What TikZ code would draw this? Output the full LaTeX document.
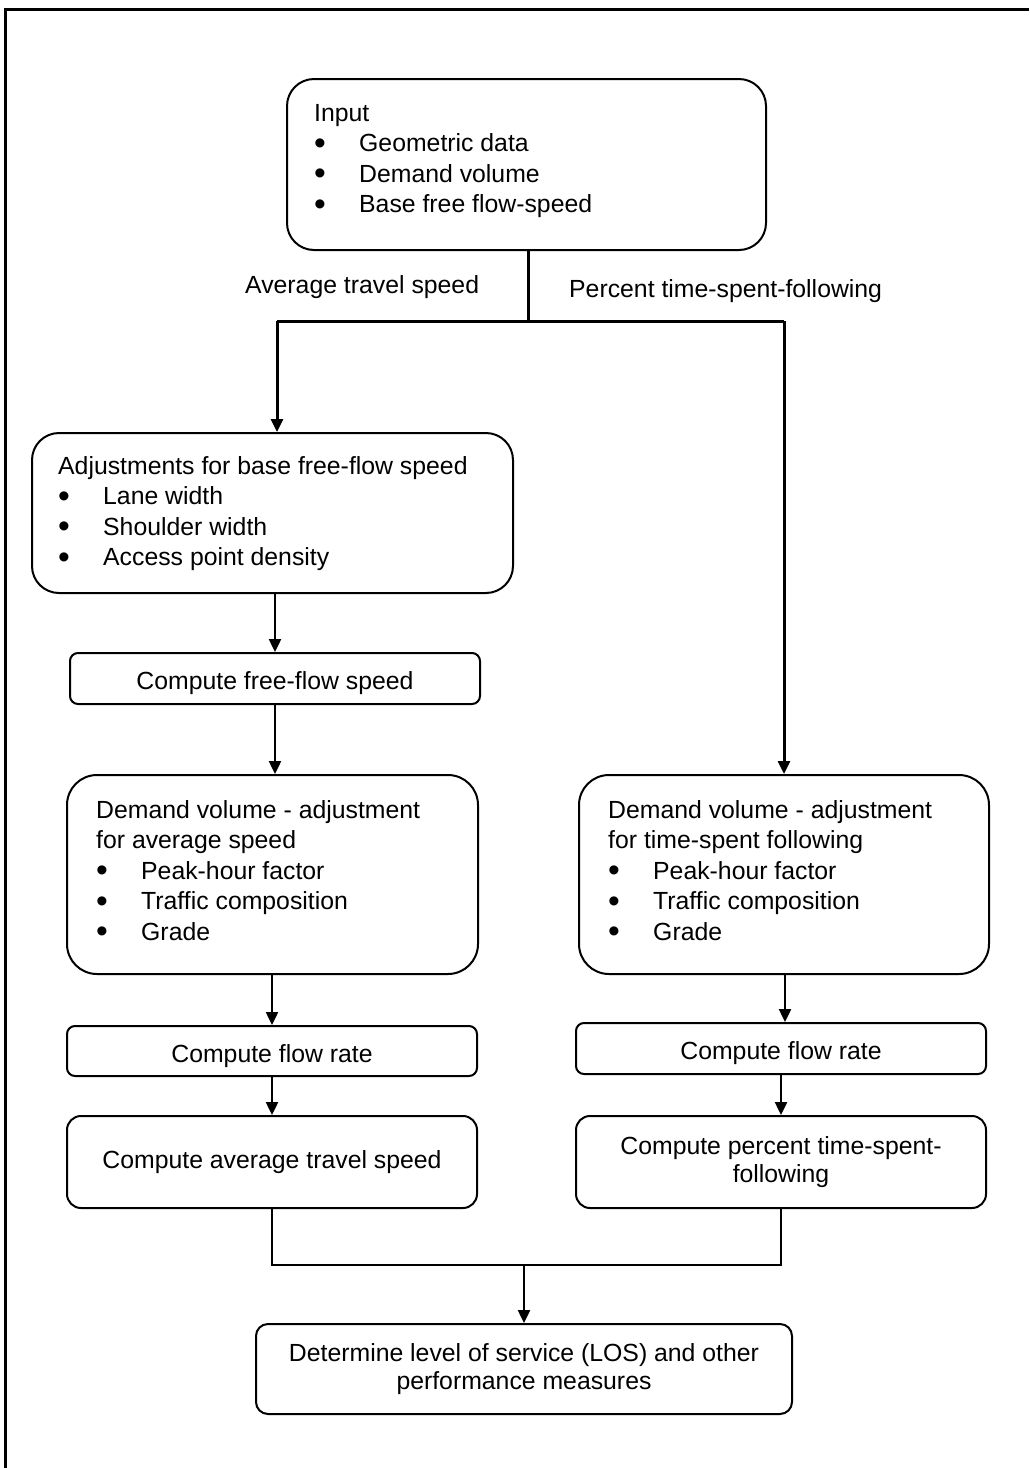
\documentclass[tikz,border=0pt]{standalone}
\usepackage{fontspec}
\setmainfont{Liberation Sans}
\usetikzlibrary{arrows.meta}
\newcommand{\bigbul}{\raisebox{-2.6pt}{\scalebox{1.35}{\textbullet}}}
\newcommand{\bitem}[1]{\makebox[45pt][l]{\bigbul}#1}
\newcommand{\blk}[1]{\parbox[t]{440pt}{\raggedright #1}}
\tikzset{
  basefont/.style={font=\fontsize{24.8}{30.5}\selectfont},
  rbox/.style={draw, line width=2pt, rectangle, inner sep=0pt, basefont},
  oneline/.style={text height=22pt, text depth=0pt},
  txt/.style={inner sep=0pt, anchor=base west, basefont},
  twolines/.style={align=center, font=\fontsize{24.8}{28.8}\selectfont},
  wide/.style={line width=3pt},
  conn/.style={line width=2.2pt},
  arr/.style={line width=2.4pt, -{Triangle[length=13pt,width=12pt]}},
  arrw/.style={line width=3pt, -{Triangle[length=13pt,width=12pt]}}
}
\begin{document}
\begin{tikzpicture}[x=1pt,y=-1pt]
\useasboundingbox (0,0) rectangle (1029,1468);
% frame (partly cut off)
\draw[line width=3pt] (5.5,1468) -- (5.5,9.5) -- (1029,9.5);

% boxes
\node[rbox, rounded corners=27pt, minimum width=479pt, minimum height=171pt] (inp) at (526.5,164.5) {};
\node[rbox, rounded corners=27pt, minimum width=481pt, minimum height=160pt] (adj) at (272.5,513) {};
\node[rbox, oneline, rounded corners=8pt, minimum width=410pt, minimum height=51pt] (ffs) at (275,678.5) {Compute free-flow speed};
\node[rbox, rounded corners=30pt, minimum width=411pt, minimum height=199pt] (dl) at (272.5,874.5) {};
\node[rbox, rounded corners=30pt, minimum width=410pt, minimum height=199pt] (dr) at (784,874.5) {};
\node[rbox, oneline, rounded corners=8pt, minimum width=410pt, minimum height=50pt] (frl) at (272,1051) {Compute flow rate};
\node[rbox, oneline, rounded corners=8pt, minimum width=410pt, minimum height=51pt] (frr) at (781,1048.5) {Compute flow rate};
\node[rbox, rounded corners=14pt, minimum width=410pt, minimum height=92pt] (atl) at (272,1162) {Compute average travel speed};
\node[rbox, twolines, rounded corners=14pt, minimum width=410pt, minimum height=92pt] (ptr) at (781,1162) {Compute percent time-spent-\\following};
\node[rbox, twolines, rounded corners=12pt, minimum width=536pt, minimum height=90pt] (los) at (524,1369) {Determine level of service (LOS) and other\\performance measures};

% box texts
\node[txt] (inpT) at (314,121) {\blk{Input\\\bitem{Geometric data}\\\bitem{Demand volume}\\\bitem{Base free flow-speed}}};
\node[txt] (adjT) at (58,474) {\blk{Adjustments for base free-flow speed\\\bitem{Lane width}\\\bitem{Shoulder width}\\\bitem{Access point density}}};
\node[txt] (dlT) at (96,818) {\blk{Demand volume - adjustment\\for average speed\\\bitem{Peak-hour factor}\\\bitem{Traffic composition}\\\bitem{Grade}}};
\node[txt] (drT) at (608,818) {\blk{Demand volume - adjustment\\for time-spent following\\\bitem{Peak-hour factor}\\\bitem{Traffic composition}\\\bitem{Grade}}};

% branch labels
\node[txt] (lblA) at (245,293) {Average travel speed};
\node[txt] (lblP) at (569,297) {Percent time-spent-following};

% top split
\coordinate (jl) at (277,321);
\coordinate (jr) at (784,321);
\draw[wide] (inp.south -| 528,0) -- (528,321);
\draw[wide] (jl) -- (jr);
\draw[arrw] (jl) -- (jl |- adj.north);
\draw[arrw] (jr) -- (jr |- dr.north);

% left chain
\draw[arr] (adj.south -| ffs.north) -- (ffs.north);
\draw[arr] (ffs.south) -- (ffs.south |- dl.north);
\draw[arr] (dl.south -| frl.north) -- (frl.north);
\draw[arr] (frl.south) -- (atl.north);

% right chain
\draw[arr] (dr.south -| 785,0) -- (785,0 |- frr.north);
\draw[arr] (frr.south) -- (ptr.north);

% merge
\coordinate (jb) at (524,1265);
\draw[conn] (atl.south) -- (atl.south |- jb) -- (ptr.south |- jb) -- (ptr.south);
\draw[arr] (jb) -- (los.north);
\end{tikzpicture}
\end{document}
